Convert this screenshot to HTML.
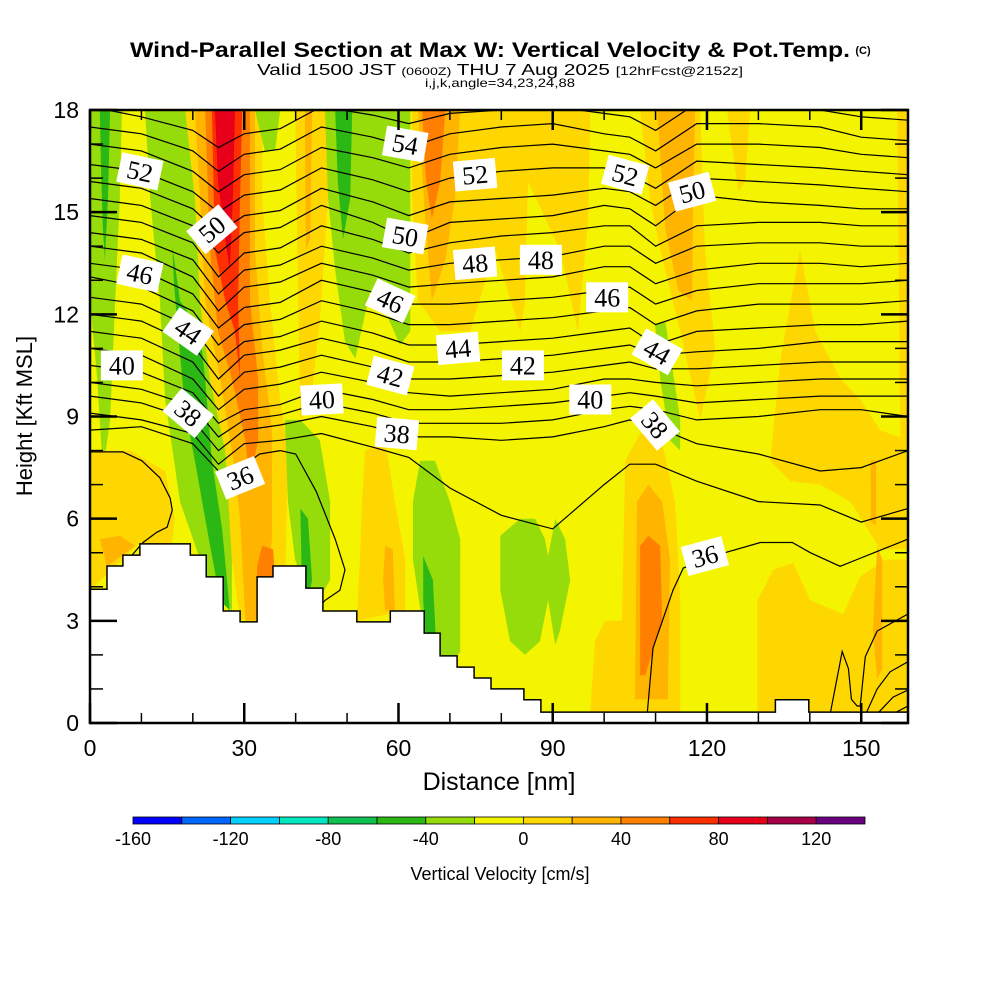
<!DOCTYPE html>
<html><head><meta charset="utf-8"><style>
body{margin:0;background:#fff}
svg{display:block}
text{font-family:"Liberation Sans",sans-serif}
</style></head><body>
<svg id="chart" width="1000" height="1000" viewBox="0 0 1000 1000" xmlns="http://www.w3.org/2000/svg">
<rect width="1000" height="1000" fill="#fff"/>
<g>
<text x="490" y="57" text-anchor="middle" font-size="21" font-weight="bold" textLength="720" lengthAdjust="spacingAndGlyphs">Wind-Parallel Section at Max W: Vertical Velocity &amp; Pot.Temp.</text>
<text x="863" y="54" text-anchor="middle" font-size="11" font-weight="bold">(C)</text>
</g>
<text x="500" y="75" text-anchor="middle" font-size="16" textLength="486" lengthAdjust="spacingAndGlyphs">Valid 1500 JST <tspan font-size="11">(0600Z)</tspan> THU 7 Aug 2025 <tspan font-size="12">[12hrFcst@2152z]</tspan></text>
<text x="500" y="87" text-anchor="middle" font-size="12" textLength="150" lengthAdjust="spacingAndGlyphs">i,j,k,angle=34,23,24,88</text>
<defs><clipPath id="plotclip"><rect x="90" y="110" width="818" height="613"/></clipPath></defs>
<rect x="90" y="110" width="818" height="613" fill="#f4f400"/>
<g id="fills" clip-path="url(#plotclip)"></g>
<g id="contours" clip-path="url(#plotclip)" fill="none" stroke="#000" stroke-width="1.2"></g>
<g id="terrain" clip-path="url(#plotclip)"></g>
<g id="labels" clip-path="url(#plotclip)"></g>
<g id="axes"></g>
<text transform="translate(32,416) rotate(-90)" text-anchor="middle" font-size="22">Height [Kft MSL]</text>
<text x="499" y="790" text-anchor="middle" font-size="25">Distance [nm]</text>
<g id="colorbar"></g>
<text x="500" y="880" text-anchor="middle" font-size="18">Vertical Velocity [cm/s]</text>
</svg>
<script>
const NS="http://www.w3.org/2000/svg";
// ----- data -----
const xMax=159.1, yMax=18;
const colXs=[0,10,20,25,30,37,45,55,62,70,80,90,100,105,110,118,130,142,150,159.1];
const thetaLevels=[37,38,39,40,41,42,43,44,45,46,47,48,49,50,51,52,53,54,55];
const L37=[9.1,8.9,8.5,7.6,8.2,8.3,8.5,8.1,7.8,6.9,6.1,5.7,7.0,7.6,7.6,7.1,6.5,6.4,5.9,6.3];
const L38=[9.6,9.4,8.9,8.0,8.6,8.75,9.0,8.7,8.4,8.4,8.3,8.4,8.7,8.9,8.7,8.2,7.9,7.4,7.5,8.0];
const L39=[10.0,9.8,9.3,8.4,8.9,9.05,9.4,9.1,8.8,8.8,8.8,8.9,9.2,9.3,9.2,8.9,9.0,9.2,9.2,9.0];
const L40=[10.5,10.3,9.7,8.8,9.2,9.35,9.8,9.5,9.2,9.2,9.3,9.4,9.6,9.7,9.6,9.4,9.5,9.6,9.6,9.6];
const L41=[11.0,10.8,10.1,9.2,9.8,9.95,10.3,10.0,9.7,9.6,9.7,9.8,10.1,10.1,10.0,9.9,10.0,10.1,10.1,10.1];
const L42=[11.5,11.3,10.6,9.6,10.3,10.45,10.8,10.45,10.1,10.1,10.2,10.3,10.5,10.6,10.4,10.4,10.5,10.6,10.6,10.6];
const L43=[12.0,11.8,11.1,10.1,10.8,10.95,11.3,10.95,10.6,10.6,10.7,10.8,11.0,11.1,10.8,10.9,11.0,11.2,11.2,11.2];
const L44=[12.5,12.3,11.6,10.6,11.2,11.35,11.8,11.45,11.1,11.1,11.2,11.3,11.5,11.6,11.1,11.5,11.6,11.7,11.7,11.8];
const L45=[13.1,12.8,12.1,11.1,11.7,11.85,12.4,12.05,11.7,11.7,11.8,11.9,12.1,12.2,11.7,12.1,12.3,12.3,12.3,12.4];
const L46=[13.5,13.3,12.6,11.6,12.2,12.35,13.0,12.65,12.3,12.3,12.4,12.5,12.7,12.8,12.3,12.7,12.9,12.9,12.9,13.0];
const L47=[14.0,13.8,13.1,12.1,12.8,12.95,13.5,13.15,12.8,12.9,13.0,13.1,13.4,13.4,12.9,13.3,13.5,13.5,13.4,13.5];
const L48=[14.4,14.2,13.6,12.6,13.3,13.45,14.0,13.65,13.3,13.5,13.6,13.7,14.0,14.0,13.5,14.0,14.1,14.1,14.0,14.0];
const L49=[14.9,14.7,14.1,13.1,13.8,13.95,14.6,14.2,13.8,14.1,14.3,14.4,14.6,14.6,14.0,14.6,14.7,14.7,14.6,14.6];
const L50=[15.4,15.2,14.6,13.8,14.4,14.55,15.2,14.7,14.2,14.7,14.8,14.9,15.2,15.1,14.6,15.5,15.3,15.2,15.1,15.1];
const L51=[15.9,15.7,15.1,14.4,14.9,15.05,15.7,15.3,14.9,15.3,15.4,15.5,15.7,15.6,15.2,16.0,15.9,15.8,15.7,15.6];
const L52=[16.4,16.2,15.6,15.0,15.5,15.65,16.3,15.95,15.6,16.0,16.2,16.3,16.3,16.1,15.7,16.5,16.4,16.3,16.2,16.1];
const L53=[17.0,16.8,16.2,15.6,16.1,16.25,16.9,16.6,16.3,16.7,16.9,17.0,16.8,16.7,16.3,17.0,17.0,16.9,16.7,16.6];
const L54=[17.5,17.3,16.8,16.2,16.7,16.85,17.5,17.2,16.9,17.3,17.5,17.6,17.3,17.2,16.8,17.6,17.6,17.5,17.2,17.1];
const L55=[18.1,17.8,17.4,16.9,17.3,17.45,18.1,17.85,17.6,17.9,18.0,18.1,17.9,17.8,17.4,18.2,18.2,18.0,17.8,17.7];
const thetaRows=[L37,L38,L39,L40,L41,L42,L43,L44,L45,L46,L47,L48,L49,L50,L51,L52,L53,L54,L55];
const extraContours=[
 [[0,8.6],[10,8.7],[20,8.2],[25,7.4],[29.2,7.5],[33,7.9],[37,8.0],[40,7.9],[44,6.8],[47.7,5.4],[49.6,4.5],[48.6,3.9],[45.7,3.6],[44,3.3]],
 [[108.4,0.3],[109.5,2.2],[113.4,3.9],[115.4,4.55],[123.5,5.0],[130.4,5.3],[136.6,5.3],[140.1,5.0],[145.9,4.6],[149.2,4.8],[159.1,5.4]],
 [[0,7.96],[6.4,7.96],[10.1,7.7],[13.6,7.2],[15.6,6.6],[16.0,6.25],[15.0,5.75],[13.0,5.6],[10.3,5.3],[8,4.9]],
 [[144,0.3],[146.3,2.1],[147.5,1.6],[148.1,0.7],[149.2,0.5],[149.8,0.5],[150.8,1.95],[153.1,2.7],[159.1,3.2]],
 [[151,0.3],[153.1,1.0],[155.6,1.5],[159.1,1.8]],
 [[153.3,0.3],[156.2,0.76],[159.1,0.97]],
 [[156.6,0.3],[159.1,0.5]]
];
const terrX=[0,3.3,6.4,9.7,19.5,22.6,25.9,29.2,32.5,35.6,42,45.3,51.9,58.4,65,68.1,71.4,74.7,78,84.4,87.7,133.3,139.8];
const terrH=[3.93,4.61,4.93,5.26,4.93,4.29,3.29,2.97,4.29,4.61,3.96,3.29,2.97,3.29,2.64,1.97,1.64,1.32,1.0,0.68,0.32,0.68,0.32];
const wColors=["#0000ff","#0066ff","#00d0ff","#00e8c0","#10c050","#2cb814","#96dc0a","#f4f400","#ffd700","#ffb400","#ff8000","#ff3000","#e8001a","#a80048","#6a0080"];
const wTicks=[-160,-120,-80,-40,0,40,80,120];
const wMin=-160, wStep=20;
// velocity regions: [w-value, polygon in (nm, kft)]
const wRegions=[
 [-30,[[0,18],[6.2,18],[5.8,15.4],[4.9,12.4],[3.9,8.9],[2.5,7.4],[1.4,10.1],[0,12.4]]],
 [-50,[[1.9,18],[3.9,18],[3.5,15.4],[2.9,13.6],[2.5,14.5],[2.1,16.5]]],
 [10,[[0,8],[7.8,8],[14.6,7.4],[16.5,6],[15.6,4.8],[9.7,5.3],[0,3.9]]],
 [30,[[1.9,5.4],[5.8,5.5],[8.8,5.2],[3.3,4.6]]],
 [-30,[[10.7,18],[20.4,18],[21.4,15.4],[23,12.4],[25.7,9.5],[27.6,6.5],[27.6,3.3],[22.8,4.2],[17.5,6.5],[14.6,9.5],[13.6,12.4],[11.7,15.4]]],
 [-50,[[16,14],[17.5,12.4],[21.4,11.5],[22.4,10.1],[23.7,7.7],[25.7,5.7],[27.2,3.3],[25.3,3.6],[22.4,6],[20.4,7.7],[18.5,9.2],[17.1,11.5],[16.3,13]]],
 [10,[[18.5,18],[33.5,18],[33.5,15.4],[35,12.4],[37,9.5],[38.5,8],[37.9,3.6],[29.2,3],[27.6,4.8],[26.3,8],[23.3,10.1],[21.4,12.4],[20.4,15.4]]],
 [30,[[20.4,18],[32.1,18],[32.1,13.9],[33.5,11],[35.4,8.6],[35.4,5.4],[33.5,3],[30.2,3],[29.2,6],[27.6,8],[25.3,10.1],[22.4,12.4],[21.4,15.4]]],
 [50,[[22.4,18],[31.1,18],[31.1,12.4],[32.7,10.1],[32.7,8.3],[31.1,7.1],[30.2,8.3],[27.6,10.1],[24.9,11.5],[23.3,13.9]]],
 [70,[[23.7,18],[29.6,18],[29.2,15.4],[28.8,12.4],[29.2,10.1],[28.2,11.5],[26.3,12.4],[24.3,13.9]]],
 [90,[[24.3,18],[28.2,18],[27.8,15.4],[27.2,13.3],[26.3,14.2],[24.9,15.9]]],
 [50,[[33.5,5.2],[35.6,5.1],[36,4.3],[32.5,4.3],[32.5,4.6]]],
 [-30,[[32.1,18],[37,18],[36,16.8],[34,16.8]]],
 [10,[[39.9,18],[46.7,18],[46.3,15.4],[44.7,11.8],[42.8,9.2],[40.9,8.9],[40.5,12.4]]],
 [30,[[41.8,18],[43.2,18],[42.8,14.2],[42,13.9]]],
 [-30,[[37.9,8.9],[40.9,8.9],[44.7,8.3],[46.7,6.5],[46.7,4.2],[44.4,3.6],[42,3.9],[39.9,4.8],[38.5,6.5]]],
 [-50,[[40.9,6.3],[42.4,6],[43.2,4.2],[42.4,3.6],[41.2,4.2]]],
 [-30,[[45.7,18],[62.3,18],[62.3,11.5],[60.3,11.1],[57.4,12.1],[54.5,12.7],[51.6,10.7],[49.6,11.2],[47.7,13.3],[46.3,15.4]]],
 [-50,[[47.7,18],[51,18],[50.6,15.4],[49.2,14.2],[48.2,15.9]]],
 [10,[[62.6,18],[97.3,18],[96.9,14.8],[94.9,11.5],[91.4,13.9],[85.2,15.9],[84.6,12.4],[83.7,11.5],[78.8,13.9],[73.9,11.5],[68.1,11.5],[63.8,12.4],[62.6,15.4]]],
 [30,[[63.8,18],[72,18],[71,15.4],[69.1,13.6],[66.5,12.4],[65.2,14.8]]],
 [50,[[64.6,18],[69.1,18],[68.1,15.9],[66.5,14.8],[65.4,15.9]]],
 [10,[[53.5,8],[57.4,8.3],[59.3,6.5],[61.3,4.8],[61.3,3.3],[51.9,3],[52.5,4.8],[52.9,6.5]]],
 [30,[[57.4,5.2],[58.9,5.1],[59.3,3.3],[57.4,3.3],[57,4.2]]],
 [-30,[[64.2,7.7],[67.1,7.7],[70,6.5],[72,5.4],[72,2.1],[70,1.7],[68.1,2],[65,2.6],[62.8,4.8],[62.8,6.5]]],
 [-50,[[64.8,4.9],[66.7,4.2],[67.3,2.4],[65.2,2.7],[64.8,3.6]]],
 [-30,[[79.8,5.5],[83.7,6],[86.6,6],[88.5,5.4],[89.1,4.9],[90.5,6],[92.4,5.4],[93.4,4.2],[91.4,2.7],[90.5,2.3],[89.1,3.6],[87.5,2.4],[84.6,2],[81.7,2.4],[79.8,3.9]]],
 [10,[[97.3,0.3],[98.2,2.4],[100.2,3],[103.7,3],[103.7,0.3]]],
 [10,[[103.1,0.3],[104.1,7.7],[107,8.5],[110.9,8.5],[113.8,6.5],[114.8,3.6],[114.8,0.3]]],
 [30,[[106,0.7],[106.4,6.5],[108.6,7],[111.3,6.5],[112.8,4.8],[112.4,0.7]]],
 [50,[[107,1.4],[107,5.2],[108.6,5.5],[110.9,5.2],[111.3,3],[108,1.4]]],
 [10,[[107,18],[118.7,18],[119.6,13.9],[121.6,11],[118.7,8.9],[114.8,11.5],[110.9,13.9],[108.9,15.4]]],
 [30,[[110.3,18],[117.7,18],[117.3,15.4],[117.1,12.4],[114.4,12.7],[111.9,14.5]]],
 [-30,[[109.9,11.7],[111.9,11.8],[114.8,8.9],[114.8,8],[112.8,8.3],[110.9,10.1]]],
 [10,[[123.9,18],[128.4,18],[127.4,15.9],[126.1,15.6]]],
 [10,[[138.1,13.9],[141.1,11.5],[146,10.1],[149.8,9.5],[153.7,8.6],[159.1,8.3],[159.1,5.1],[153.7,5.1],[147.9,6.5],[142,7],[136.2,7.1],[132.3,7.7],[134.2,10.6]]],
 [10,[[157,18],[159.1,18],[159.1,8.3],[157.6,8.3]]],
 [10,[[129.8,0.3],[129.8,3.6],[132.9,4.5],[136.8,4.7],[140.1,3.6],[146.5,3.2],[149.8,4.3],[154.7,4.8],[159.1,4.8],[159.1,0.3]]],
 [30,[[153.1,5.2],[154.1,4.8],[154.1,1.6],[153.1,1.3],[152.3,2.7]]],
 [30,[[151.8,7.7],[152.9,7.7],[152.9,5.8],[151.9,5.9]]]
];
const labelTexts=["52","50","46","44","40","38","36","54","52","50","48","48","46","44","42","42","40","40","38","52","50","46","44","38","36"];
const labelX=[9.7,23.7,9.7,19.1,6.2,19.1,29.2,61.3,74.9,61.3,74.9,87.7,58.4,71.6,58.4,84.2,45.1,97.3,59.7,104.1,117.1,100.6,110.3,109.9,119.6];
const labelY=[16.2,14.5,13.2,11.5,10.5,9.1,7.2,17.0,16.1,14.3,13.5,13.6,12.4,11.0,10.2,10.5,9.5,9.5,8.5,16.1,15.6,12.5,10.9,8.75,4.9];
const labelAngle=[12,-40,12,35,0,40,-22,10,-5,10,-5,0,25,-5,15,0,-3,0,5,15,-15,0,30,50,-15];
const yTicks=[0,3,6,9,12,15,18];
const xTicks=[0,30,60,90,120,150];
// ----- scales -----
const PX0=90,PX1=908,PY0=723,PY1=110;
const X=v=>PX0+v/xMax*(PX1-PX0);
const Y=v=>PY0-v/yMax*(PY0-PY1);
const colorFor=w=>wColors[Math.max(0,Math.min(wColors.length-1,Math.floor((w-wMin)/wStep)))];
function el(tag,attrs,parent){const e=document.createElementNS(NS,tag);for(const k in attrs)e.setAttribute(k,attrs[k]);parent.appendChild(e);return e;}
const pts=a=>a.map(p=>X(p[0]).toFixed(1)+","+Y(p[1]).toFixed(1)).join(" ");
// fills
const gF=document.getElementById("fills");
wRegions.forEach((r,i)=>{
 const p=el("polygon",{points:pts(r[1]),fill:colorFor(r[0])},gF);
 
 
});
// contours
const gC=document.getElementById("contours");
thetaRows.forEach((row,i)=>{
 const p=el("polyline",{points:pts(row.map((h,j)=>[colXs[j],h]))},gC);
 
 
});
extraContours.forEach(c=>{
 const p=el("polyline",{points:pts(c)},gC);
 
 
});
// terrain
const gT=document.getElementById("terrain");
let d="M"+X(0)+","+Y(-1);
for(let i=0;i<terrX.length;i++){const x2=i+1<terrX.length?terrX[i+1]:xMax;d+=" L"+X(terrX[i]).toFixed(1)+","+Y(terrH[i]).toFixed(1)+" L"+X(x2).toFixed(1)+","+Y(terrH[i]).toFixed(1);}
d+=" L"+X(xMax)+","+Y(-1)+" Z";
const tp=el("path",{d:d,fill:"#fff",stroke:"#000","stroke-width":"1.5"},gT);


// labels
const gL=document.getElementById("labels");
labelTexts.forEach((t,i)=>{
 const g=el("g",{transform:"translate("+X(labelX[i]).toFixed(1)+","+Y(labelY[i]).toFixed(1)+") rotate("+labelAngle[i]+")"},gL);
 
 
 el("rect",{x:-21,y:-15,width:42,height:30,fill:"#fff"},g);
 const tx=el("text",{x:0,y:9,"text-anchor":"middle","font-size":"26",style:"font-family:'Liberation Serif',serif"},g);
 tx.textContent=t;
});
// axes
const gA=document.getElementById("axes");
const fr=el("rect",{x:PX0,y:PY1,width:PX1-PX0,height:PY0-PY1,fill:"none",stroke:"#000","stroke-width":"2.5"},gA);


for(let v=0;v<=yMax;v++){const maj=v%3===0,len=maj?27:13,y=Y(v);
 el("line",{x1:PX0,y1:y,x2:PX0+len,y2:y,stroke:"#000","stroke-width":maj?2.5:1.5},gA);
 el("line",{x1:PX1,y1:y,x2:PX1-len,y2:y,stroke:"#000","stroke-width":maj?2.5:1.5},gA);}
for(let v=0;v<=xMax;v+=10){const maj=v%30===0,len=maj?20:10,x=X(v);
 el("line",{x1:x,y1:PY0,x2:x,y2:PY0-len,stroke:"#000","stroke-width":maj?2.5:1.5},gA);
 el("line",{x1:x,y1:PY1,x2:x,y2:PY1+len,stroke:"#000","stroke-width":maj?2.5:1.5},gA);}
yTicks.forEach(v=>{const t=el("text",{x:79,y:Y(v)+8,"text-anchor":"end","font-size":"23"},gA);t.textContent=v;
 
 });
xTicks.forEach(v=>{const t=el("text",{x:X(v),y:756,"text-anchor":"middle","font-size":"23"},gA);t.textContent=v;
 
 });
// colorbar
const gB=document.getElementById("colorbar");
const cbx0=133,cbx1=865,cby=817,cbh=7,cw=(cbx1-cbx0)/wColors.length;
wColors.forEach((c,i)=>{const r=el("rect",{x:cbx0+i*cw,y:cby,width:cw,height:cbh,fill:c,stroke:"#000","stroke-width":"0.8"},gB);
 
 });
wTicks.forEach(v=>{const t=el("text",{x:cbx0+(v-wMin)/wStep*cw,y:845,"text-anchor":"middle","font-size":"18"},gB);t.textContent=v;
 
 });
</script>
</body></html>
